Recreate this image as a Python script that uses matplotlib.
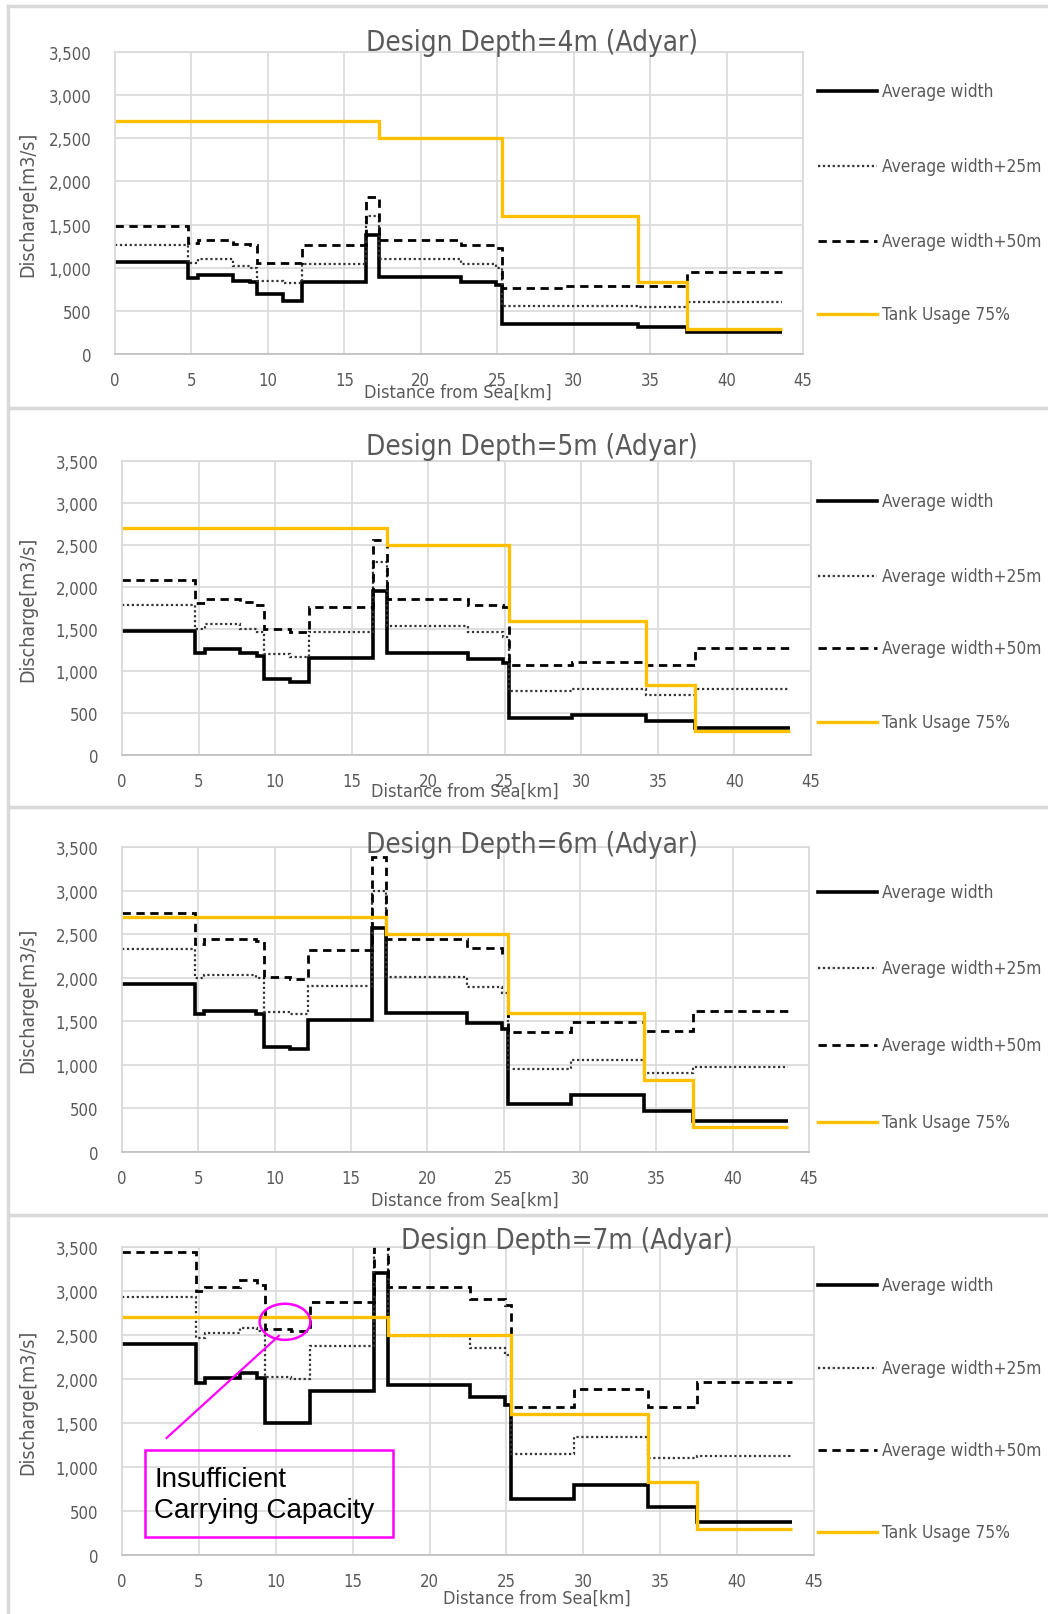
import matplotlib
matplotlib.use("Agg")
import matplotlib.pyplot as plt
from matplotlib.lines import Line2D
from matplotlib.patches import Ellipse, Rectangle
import numpy as np

plt.rcParams['font.family'] = ['DejaVu Sans']
plt.rcParams['font.stretch'] = 'condensed'

# segment edges along the river [km]
edges = [0, 4.8, 5.4, 7.7, 8.8, 9.3, 11.0, 12.2, 16.4, 17.3, 22.6, 24.9, 25.3, 29.4, 34.2, 37.4, 43.6]

# tank usage 75% (same in every panel)
tank_edges = [0, 17.3, 25.3, 34.2, 37.4, 43.6]
tank_q = [2700, 2500, 1600, 830, 290]

depths = ["4m", "5m", "6m", "7m"]

# discharge [m3/s] per segment
avg = {
    "4m": [1070, 880, 910, 850, 830, 700, 610, 830, 1380, 890, 830, 800, 350, 350, 310, 250],
    "5m": [1480, 1210, 1260, 1220, 1180, 900, 870, 1150, 1950, 1220, 1140, 1090, 440, 480, 400, 320],
    "6m": [1930, 1580, 1620, 1620, 1580, 1200, 1180, 1510, 2570, 1590, 1480, 1410, 550, 650, 470, 360],
    "7m": [2400, 1950, 2010, 2070, 2010, 1500, 1500, 1860, 3210, 1930, 1800, 1700, 640, 790, 540, 370],
}
avg25 = {
    "4m": [1260, 1060, 1100, 1020, 1000, 845, 820, 1040, 1600, 1100, 1040, 1000, 560, 560, 540, 600],
    "5m": [1780, 1500, 1560, 1500, 1460, 1200, 1170, 1460, 2300, 1540, 1460, 1400, 760, 790, 710, 780],
    "6m": [2330, 2000, 2030, 2030, 2000, 1610, 1580, 1910, 3000, 2010, 1890, 1830, 950, 1060, 910, 970],
    "7m": [2930, 2470, 2520, 2580, 2540, 2020, 2000, 2370, 3700, 2490, 2350, 2270, 1150, 1340, 1100, 1130],
}
avg50 = {
    "4m": [1480, 1290, 1320, 1280, 1260, 1050, 1050, 1260, 1820, 1320, 1260, 1230, 770, 790, 790, 950],
    "5m": [2080, 1810, 1860, 1820, 1790, 1500, 1470, 1760, 2560, 1860, 1780, 1760, 1070, 1110, 1070, 1270],
    "6m": [2740, 2390, 2440, 2440, 2420, 2010, 1990, 2320, 3390, 2450, 2340, 2260, 1380, 1490, 1390, 1620],
    "7m": [3440, 3000, 3050, 3120, 3070, 2570, 2540, 2880, 4200, 3050, 2910, 2840, 1680, 1890, 1680, 1970],
}

labels = ["Average width", "Average width+25m", "Average width+50m", "Tank Usage 75%"]

GRAY = "#595959"
GRID = "#d9d9d9"
GOLD = "#FFC000"

W, H = 1048, 1615
fig = plt.figure(figsize=(W / 100, H / 100), dpi=100)

# axes boxes in pixels: left, right, top, bottom
boxes = [(115, 803, 53, 355), (122, 811, 462, 756), (122, 809, 848, 1153), (122, 814, 1248, 1556)]
title_pos = [(532, 43), (532, 447), (532, 845), (567, 1241)]
xlabel_pos = [(458, 393), (465, 792), (465, 1201), (537, 1599)]
legend_y = [[92, 167, 242, 315], [502, 577, 649, 723], [893, 969, 1046, 1123], [1286, 1369, 1451, 1533]]

styles = [dict(color="black", lw=2.6), dict(color="#333333", lw=1.6, linestyle=(0, (1, 1.2))),
          dict(color="black", lw=2.0, linestyle=(0, (3, 2))), dict(color=GOLD, lw=2.4)]

for i, d in enumerate(depths):
    l, r, t, b = boxes[i]
    ax = fig.add_axes([l / W, 1 - b / H, (r - l) / W, (b - t) / H])
    ax.stairs(avg[d], edges, baseline=None, **styles[0])
    ax.stairs(avg25[d], edges, baseline=None, **styles[1])
    ax.stairs(avg50[d], edges, baseline=None, **styles[2])
    ax.stairs(tank_q, tank_edges, baseline=None, **styles[3])

    ax.set_xlim(0, 45)
    ax.set_ylim(0, 3500)
    ax.set_xticks(np.arange(0, 46, 5))
    ax.set_yticks(np.arange(0, 3501, 500))
    ax.set_yticklabels([f"{v:,}" for v in range(0, 3501, 500)])
    ax.grid(True, color=GRID, lw=1.2)
    ax.set_axisbelow(True)
    for s in ax.spines.values():
        s.set_color(GRID)
        s.set_linewidth(1.2)
    ax.spines['bottom'].set_color("#bfbfbf")
    ax.tick_params(length=0, labelsize=12, colors=GRAY, pad=12)
    ax.tick_params(axis="y", pad=17)

    fig.text(title_pos[i][0] / W, 1 - title_pos[i][1] / H, f"Design Depth={d} (Adyar)",
             ha="center", va="center", fontsize=20, color=GRAY)
    fig.text(xlabel_pos[i][0] / W, 1 - xlabel_pos[i][1] / H, "Distance from Sea[km]",
             ha="center", va="center", fontsize=13, color=GRAY)
    fig.text(28 / W, 1 - (t + b) / 2 / H, "Discharge[m3/s]", rotation=90,
             ha="center", va="center", fontsize=14, color=GRAY)

    # legend drawn entry by entry
    for j, lab in enumerate(labels):
        yy = 1 - legend_y[i][j] / H
        fig.add_artist(Line2D([818 / W, 877 / W], [yy, yy], **styles[j]))
        fig.text(882 / W, yy, lab, ha="left", va="center", fontsize=12.4, color=GRAY)

    if d == "7m":
        ax.add_patch(Ellipse((10.6, 2650), 3.3, 410, fill=False, edgecolor="#FF00FF", lw=1.8))
        ax.plot([10.2, 2.9], [2490, 1330], color="#FF00FF", lw=1.6)
        ax.add_patch(Rectangle((1.5, 208), 16.1, 986, fill=False, edgecolor="#FF00FF", lw=1.8))
        ax.text(2.1, 690, "Insufficient\nCarrying Capacity", ha="left", va="center",
                fontsize=20, color="black", family=["Liberation Sans", "DejaVu Sans"],
                stretch="normal", linespacing=1.25)

# chart frames
for y in [7, 409, 808, 1216]:
    fig.add_artist(Line2D([8 / W, 1], [1 - y / H, 1 - y / H], color=GRID, lw=2.5))
fig.add_artist(Line2D([8 / W, 8 / W], [0, 1 - 7 / H], color=GRID, lw=2.5))

fig.savefig("out.png", dpi=100, facecolor="white")
